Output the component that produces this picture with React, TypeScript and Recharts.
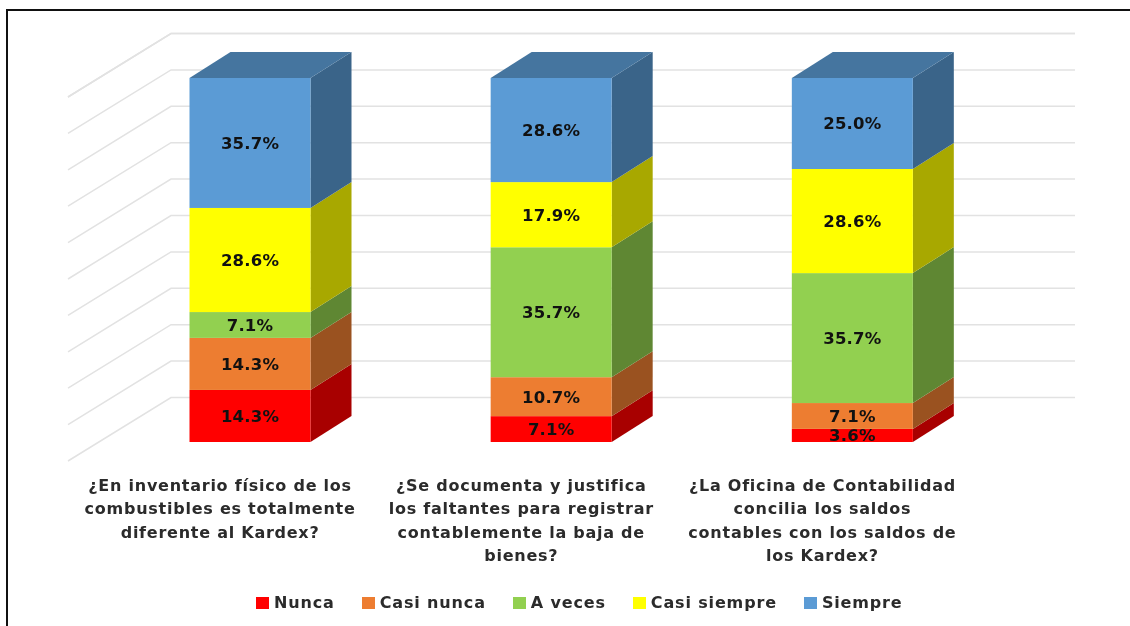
import React from "react";
import { BarChart, Bar, XAxis, YAxis, CartesianGrid, LabelList, Legend } from "recharts";

const categories = [
  "¿En inventario físico de los\ncombustibles es totalmente\ndiferente al Kardex?",
  "¿Se documenta y justifica\nlos faltantes para registrar\ncontablemente la baja de\nbienes?",
  "¿La Oficina de Contabilidad\nconcilia los saldos\ncontables con los saldos de\nlos Kardex?",
];
const nunca = [14.3, 7.1, 3.6];
const casiNunca = [14.3, 10.7, 7.1];
const aVeces = [7.1, 35.7, 35.7];
const casiSiempre = [28.6, 17.9, 28.6];
const siempre = [35.7, 28.6, 25.0];
const yTicks = [0, 10, 20, 30, 40, 50, 60, 70, 80, 90, 100];

const seriesList = [
  { key: "Nunca", values: nunca, color: "#ff0000", side: "#a80000" },
  { key: "Casi nunca", values: casiNunca, color: "#ed7d31", side: "#9a5220" },
  { key: "A veces", values: aVeces, color: "#92d050", side: "#5f8733" },
  { key: "Casi siempre", values: casiSiempre, color: "#ffff00", side: "#a8a800" },
  { key: "Siempre", values: siempre, color: "#5b9bd5", side: "#3a6489", top: "#45759f" },
];

const data = categories.map((name, i) => {
  const row: Record<string, number | string> = { name };
  seriesList.forEach((s) => {
    row[s.key] = s.values[i];
  });
  return row;
});

const FONT = '"DejaVu Sans", sans-serif';
const DX = 41;
const DY = 26;

const makeShape = (side: string, top?: string) => (props: any) => {
  const { x, y, width: w, height: h, fill } = props;
  return (
    <g>
      <polygon
        points={`${x + w},${y + h} ${x + w + DX},${y + h - DY} ${x + w + DX},${y - DY} ${x + w},${y}`}
        fill={side}
      />
      {top ? (
        <polygon points={`${x},${y} ${x + DX},${y - DY} ${x + w + DX},${y - DY} ${x + w},${y}`} fill={top} />
      ) : null}
      <rect x={x} y={y} width={w} height={h} fill={fill} />
    </g>
  );
};

const gridLine = (props: any) => {
  const { y1, key } = props;
  return (
    <polyline
      key={key}
      points={`68,${y1 + 19} 171,${y1 - 44.5} 1075,${y1 - 44.5}`}
      fill="none"
      stroke="#e2e2e2"
      strokeWidth={1.5}
    />
  );
};

const CategoryTick = (props: any) => {
  const { x, payload } = props;
  const lines = String(payload.value).split("\n");
  return (
    <text
      x={x - 30}
      textAnchor="middle"
      fontFamily={FONT}
      fontWeight={700}
      fontSize={16}
      letterSpacing={0.75}
      fill="#2b2b2b"
    >
      {lines.map((l, i) => (
        <tspan key={i} x={x - 30} y={490.5 + i * 23.5}>
          {l}
        </tspan>
      ))}
    </text>
  );
};

const LegendContent = (props: any) => (
  <div style={{ display: "flex", gap: 27, fontFamily: FONT, fontWeight: 700, fontSize: 16, letterSpacing: 0.85, color: "#2b2b2b" }}>
    {(props.payload || []).map((p: any) => (
      <div key={p.value} style={{ display: "flex", alignItems: "center", gap: 5, whiteSpace: "nowrap" }}>
        <span style={{ width: 13, height: 12, background: p.color, display: "inline-block" }} />
        <span>{p.value}</span>
      </div>
    ))}
  </div>
);

export default function App() {
  return (
    <div style={{ position: "absolute", left: 0, top: 0, width: 1130, height: 626, overflow: "hidden", background: "#fff" }}>
      <div
        style={{
          position: "absolute",
          left: 6,
          top: 9,
          width: 1124,
          height: 617,
          borderTop: "2px solid #111",
          borderLeft: "2px solid #111",
          boxSizing: "border-box",
        }}
      />
      <div style={{ position: "absolute", left: 0, top: 0, filter: "blur(0.45px)" }}>
        <BarChart
          width={1130}
          height={626}
          data={data}
          margin={{ top: 78, bottom: 164, left: 99.5, right: 127 }}
          barSize={121}
        >
          <CartesianGrid vertical={false} horizontal={gridLine} />
          <XAxis dataKey="name" axisLine={false} tickLine={false} tick={<CategoryTick />} interval={0} height={1} />
          <YAxis hide domain={[0, 100]} ticks={yTicks} width={0} />
          {seriesList.map((s) => (
            <Bar
              key={s.key}
              dataKey={s.key}
              stackId="a"
              fill={s.color}
              isAnimationActive={false}
              shape={makeShape(s.side, s.top)}
            >
              <LabelList
                dataKey={s.key}
                position="center"
                formatter={(v: any) => `${Number(v).toFixed(1)}%`}
                fontFamily={FONT}
                fontWeight={700}
                fontSize={16.5}
                letterSpacing={0.2}
                fill="#111"
              />
            </Bar>
          ))}
          <Legend
            content={<LegendContent />}
            itemSorter={null}
            wrapperStyle={{ left: 256, top: 593, width: 700, bottom: "auto" }}
          />
        </BarChart>
      </div>
    </div>
  );
}
